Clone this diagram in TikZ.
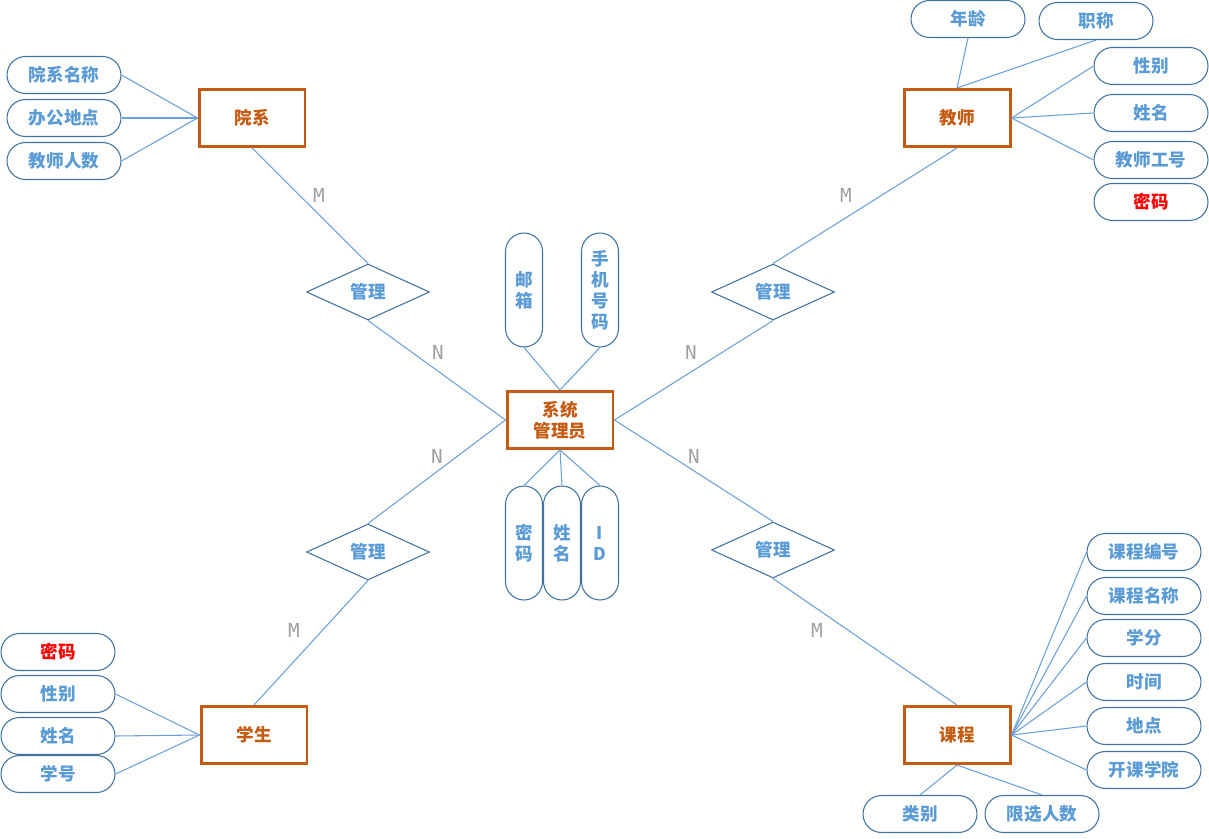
\documentclass[tikz,border=0pt]{standalone}
\usepackage{fontspec}
\setmainfont{Noto Sans CJK SC}
\newfontfamily\monof{DejaVu Sans Mono}
\usetikzlibrary{shapes.geometric}
\definecolor{eorange}{HTML}{C55A11}
\definecolor{aborder}{HTML}{41719C}
\definecolor{atext}{HTML}{5B9BD5}
\definecolor{lblue}{HTML}{6A9FD8}
\definecolor{cgray}{HTML}{A0A0A0}

\begin{document}
\begin{tikzpicture}[x=0.02cm,y=-0.02cm,
    entity/.style={draw=eorange,line width=1.7pt,text=eorange,minimum width=2.12cm,minimum height=1.14cm,align=center,inner sep=0pt,font=\bfseries},
    attr/.style={draw=aborder,line width=0.6pt,text=atext,rounded corners=0.37cm,minimum width=2.28cm,minimum height=0.74cm,inner sep=0pt,font=\bfseries},
    vattr/.style={attr,minimum width=0.74cm,minimum height=2.28cm,align=center},
    keyattr/.style={attr,text=red},
    rel/.style={diamond,draw=aborder,line width=0.6pt,text=atext,minimum width=2.46cm,minimum height=1.12cm,inner sep=0pt,font=\bfseries},
    card/.style={text=cgray,font=\monof\fontsize{11}{13}\selectfont},
    link/.style={draw=lblue,line width=0.6pt}]
  \useasboundingbox (0,0) rectangle (1209,838);

  % entities
  \node[entity] (yuanxi) at (252,118) {院系};
  \node[entity] (jiaoshi) at (957,118) {教师};
  \node[entity] (admin) at (560,420) {系统\\管理员};
  \node[entity] (xuesheng) at (254,735) {学生};
  \node[entity] (kecheng) at (957,735) {课程};

  % relations
  \node[rel] (glA) at (368,292) {管理};
  \node[rel] (glB) at (773,292) {管理};
  \node[rel] (glC) at (368,552) {管理};
  \node[rel] (glD) at (773,550) {管理};

  % yuanxi
  \node[attr] (yxmc) at (64,75) {院系名称};
  \node[attr] (bgdd) at (64,118) {办公地点};
  \node[attr] (jsrs) at (64,161) {教师人数};
  \foreach \a in {yxmc,bgdd,jsrs}
    \draw[link] (\a.east) -- (yuanxi.west);

  % jiaoshi
  \node[attr] (nl) at (968,19) {年龄};
  \node[attr] (zc) at (1096,21) {职称};
  \node[attr] (jsxb) at (1151,66) {性别};
  \node[attr] (jsxm) at (1151,113) {姓名};
  \node[attr] (jsgh) at (1151,160) {教师工号};
  \node[keyattr] (jsmm) at (1151,202) {密码};
  \draw[link] (nl.south) -- (jiaoshi.north);
  \draw[link] (zc.south) -- (jiaoshi.north);
  \foreach \a in {jsxb,jsxm,jsgh}
    \draw[link] (\a.west) -- (jiaoshi.east);

  % admin
  \node[vattr] (yx) at (524,290) {邮\\箱};
  \node[vattr] (sjhm) at (600,290) {手\\机\\号\\码};
  \node[vattr] (glmm) at (524,543) {密\\码};
  \node[vattr] (glxm) at (562,543) {姓\\名};
  \node[vattr] (glid) at (600,543) {I\\D};
  \draw[link] (yx.south) -- (admin.north);
  \draw[link] (sjhm.south) -- (admin.north);
  \foreach \a in {glmm,glxm,glid}
    \draw[link] (admin.south) -- (\a.north);

  % xuesheng
  \node[keyattr] (xsmm) at (58,652) {密码};
  \node[attr] (xsxb) at (58,694) {性别};
  \node[attr] (xsxm) at (58,736) {姓名};
  \node[attr] (xh) at (58,774) {学号};
  \foreach \a in {xsxb,xsxm,xh}
    \draw[link] (\a.east) -- (xuesheng.west);

  % kecheng
  \node[attr] (kcbh) at (1144,552) {课程编号};
  \node[attr] (kcmc) at (1144,596) {课程名称};
  \node[attr] (xf) at (1144,638) {学分};
  \node[attr] (sj) at (1144,682) {时间};
  \node[attr] (dd) at (1144,726) {地点};
  \node[attr] (kkxy) at (1144,770) {开课学院};
  \node[attr] (lb) at (920,814) {类别};
  \node[attr] (xxrs) at (1042,814) {限选人数};
  \foreach \a in {kcbh,kcmc,xf,sj,dd,kkxy}
    \draw[link] (kecheng.east) -- (\a.west);
  \draw[link] (kecheng.south) -- (lb.north);
  \draw[link] (kecheng.south) -- (xxrs.north);

  % relation links
  \draw[link] (yuanxi.south) -- (glA.north);
  \draw[link] (glA.south) -- (admin.west);
  \draw[link] (jiaoshi.south) -- (glB.north);
  \draw[link] (glB.south) -- (admin.east);
  \draw[link] (admin.west) -- (glC.north);
  \draw[link] (glC.south) -- (xuesheng.north);
  \draw[link] (admin.east) -- (glD.north);
  \draw[link] (glD.south) -- (kecheng.north);

  % cardinalities
  \node[card] (mA) at (319,195) {M};
  \node[card] (nA) at (438,352) {N};
  \node[card] (mB) at (846,195) {M};
  \node[card] (nB) at (691,352) {N};
  \node[card] (nC) at (437,456) {N};
  \node[card] (mC) at (294,630) {M};
  \node[card] (nD) at (694,456) {N};
  \node[card] (mD) at (817,630) {M};
\end{tikzpicture}
\end{document}
